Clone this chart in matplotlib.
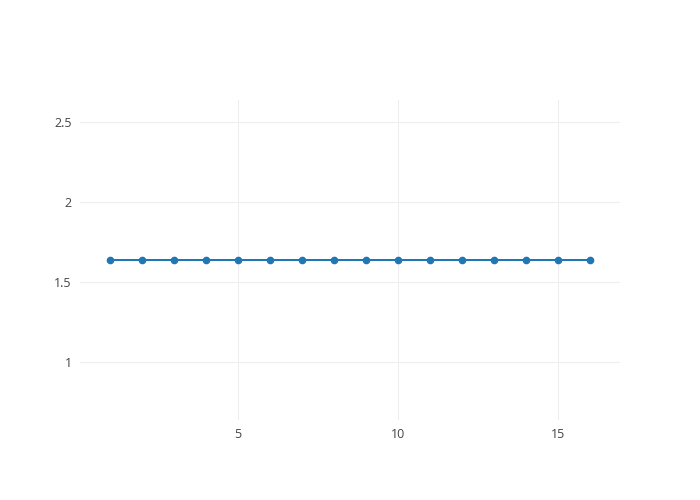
import matplotlib
matplotlib.use("Agg")
import matplotlib.pyplot as plt

x_vals = list(range(1, 17))
y_vals = [1.6375] * 16
x_ticks = [5, 10, 15]
y_ticks = [1, 1.5, 2, 2.5]
y_tick_labels = ["1", "1.5", "2", "2.5"]

plt.rcParams['font.family'] = ['Open Sans', 'DejaVu Sans']

fig = plt.figure(figsize=(7, 5), dpi=100)
ax = fig.add_axes([80/700, 80/500, 540/700, 320/500])

ax.plot(x_vals, y_vals, color='#1f77b4', linewidth=1.44, marker='o', markersize=4.5,
        zorder=3, clip_on=False)

ax.set_xlim(0.0625, 16.9375)
ax.set_ylim(y_vals[0] - 1, y_vals[0] + 1)
ax.set_xticks(x_ticks)
ax.set_xticklabels([str(t) for t in x_ticks])
ax.set_yticks(y_ticks)
ax.set_yticklabels(y_tick_labels)

ax.grid(True, color='#eeeeee', linewidth=0.75)
ax.set_axisbelow(True)
for s in ax.spines.values():
    s.set_visible(False)
ax.tick_params(axis='both', length=0, labelsize=9, colors='#444444', pad=6)

fig.savefig('out.png', dpi=100, facecolor='white')
